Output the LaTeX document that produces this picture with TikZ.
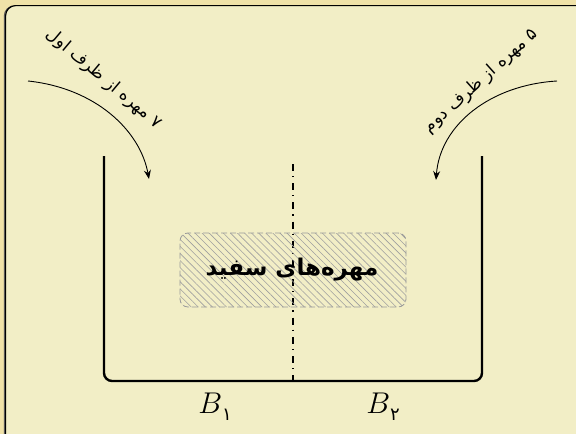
\documentclass[tikz,border=0pt]{standalone}
\usepackage{fix-cm}
\usepackage{fontspec}
\newfontfamily\fa[Script=Arabic]{DejaVu Sans}
\TeXXeTstate=1
\usetikzlibrary{patterns.meta,arrows.meta}
\definecolor{outerbg}{RGB}{240,226,168}
\definecolor{innerbg}{RGB}{242,238,198}
\tikzset{
  wall/.style={line width=2.4pt, rounded corners=8pt},
  divider/.style={line width=2.8pt, dash pattern=on 7pt off 5pt on 1.2pt off 6pt},
  hatchbox/.style={draw=gray!80, dashed, dash pattern=on 6pt off 3pt, line width=0.8pt, rounded corners=8pt,
    pattern={Lines[angle=-45,distance=5pt,line width=0.6pt]}, pattern color=gray!75},
  flow/.style={line width=0.9pt, -{Stealth[length=9pt,width=7pt,inset=3pt]}},
  lbl/.style={font=\fa\fontsize{17}{19}\selectfont, inner sep=0pt},
  blbl/.style={font=\fontsize{30}{34}\selectfont, inner sep=0pt}
}
\begin{document}
\begin{tikzpicture}[x=1pt,y=-1pt]
\useasboundingbox (0,0) rectangle (576,434);
\clip (0,0) rectangle (576,434);
\fill[outerbg] (0,0) rectangle (576,434);
\draw[gray!70!black, line width=1.2pt, rounded corners=10pt] (4.4,6) rectangle (590,450);
\draw[fill=innerbg, rounded corners=10pt, line width=1.2pt] (5.6,5.6) rectangle (590,450);
% container
\coordinate (lt) at (104,156);
\coordinate (lb) at (104,381);
\coordinate (rb) at (482,381);
\coordinate (rt) at (482,156);
\draw[wall] (lt) -- (lb) -- (rb) -- (rt);
% divider
\coordinate (dtop) at (293,164);
\coordinate (dbot) at (293,381);
\draw[divider] (dtop) -- (dbot);
% hatched box
\node[hatchbox, minimum width=226pt, minimum height=74pt] (white) at (293,270) {};
\node[font=\fa\bfseries\fontsize{23}{26}\selectfont, inner sep=0pt] (wtxt) at (292,270) {\beginR مهره‌های سفید\endR};
% labels
\node[blbl] (b1) at (215,407) {$B$\raisebox{-7pt}{\fa\fontsize{18}{18}\selectfont ۱}};
\node[blbl] (b2) at (383,407) {$B$\raisebox{-7pt}{\fa\fontsize{18}{18}\selectfont ۲}};
% arrows
\coordinate (s1) at (28,81);
\coordinate (e1) at (149,179);
\draw[flow] (s1) .. controls (95,88) and (140,130) .. (e1);
\coordinate (s2) at (557,81);
\coordinate (e2) at (436,180);
\draw[flow] (s2) .. controls (490,85) and (440,125) .. (e2);
\node[lbl, rotate=-40] (t1) at (104,79) {\beginR ۷ مهره از ظرف اول\endR};
\node[lbl, rotate=42] (t2) at (481,81) {\beginR ۵ مهره از ظرف دوم\endR};
\end{tikzpicture}
\end{document}
